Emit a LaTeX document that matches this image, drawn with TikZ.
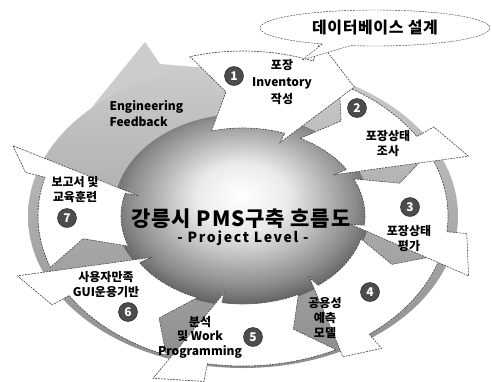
\documentclass[tikz,border=0pt]{standalone}
\usepackage{fontspec}
\setmainfont{Noto Sans CJK KR}
\usetikzlibrary{shapes.callouts}

% light centre, dark rim
\pgfdeclareradialshading{hubshade}{\pgfpoint{0bp}{4bp}}{color(0bp)=(white); color(9bp)=(black!8); color(22bp)=(black!45); color(33bp)=(black!85); color(50bp)=(black!85)}

\tikzset{
  ringarrow/.style={fill=white, draw=black!75, line width=0.6pt, dash pattern=on 2pt off 1pt, line join=miter},
  numdot/.style={circle, fill=black!70, draw=black!90, text=white, font=\bfseries\fontsize{12}{12}\selectfont, minimum size=19pt, inner sep=0pt},
  steplabel/.style={align=center, font=\bfseries\fontsize{12}{15}\selectfont},
}

\begin{document}
\begin{tikzpicture}[x=1pt, y=-1pt]
    \useasboundingbox (0,0) rectangle (492,381);

    % Grey ring
    \fill[black!20] (88,112) -- (145,42) -- (160,64) -- (232,70) -- (205,125) -- cycle;
    \shade[top color=black!20, bottom color=black!45] (243,216) ellipse [x radius=215pt, y radius=152pt];

    % Centre disc
    \shade[shading=hubshade] (242,210) ellipse [x radius=128pt, y radius=96pt];

    % Arrows (7 first, so every head lies on the next tail)
    \begin{scope}[shift={(243,216)}]
        \draw[ringarrow] plot[domain=160:195] (\x:122 and 88) -- (195:108 and 78) -- (203:250 and 180) -- (195:225 and 168) -- plot[domain=195:160] (\x:205 and 150) -- (169:163 and 119) -- cycle;
        \draw[ringarrow] plot[domain=112:148] (\x:122 and 88) -- (148:108 and 78) -- (160:240 and 175) -- (148:225 and 168) -- plot[domain=148:112] (\x:205 and 150) -- (121:163 and 119) -- cycle;
        \draw[ringarrow] plot[domain=63:100] (\x:122 and 88) -- (100:108 and 78) -- (112:240 and 175) -- (100:225 and 168) -- plot[domain=100:63] (\x:205 and 150) -- (72:163 and 119) -- cycle;
        \draw[ringarrow] plot[domain=15:52] (\x:122 and 88) -- (52:108 and 78) -- (63:220 and 158) -- (52:225 and 168) -- plot[domain=52:15] (\x:205 and 150) -- (24:163 and 119) -- cycle;
        \draw[ringarrow] plot[domain=335:366] (\x:122 and 88) -- (366:108 and 78) -- (380:240 and 175) -- (366:225 and 168) -- plot[domain=366:335] (\x:205 and 150) -- (344:163 and 119) -- cycle;
        \draw[ringarrow] plot[domain=298:328] (\x:122 and 88) -- (328:108 and 78) -- (340:240 and 175) -- (328:225 and 168) -- plot[domain=328:298] (\x:205 and 150) -- (307:163 and 119) -- cycle;
        \draw[ringarrow] plot[domain=255:290] (\x:122 and 88) -- (290:108 and 78) -- (302:210 and 152) -- (290:225 and 185) -- plot[domain=290:255] (\x:205 and 165) -- (264:163 and 125) -- cycle;
    \end{scope}

    % Title
    \node[font=\bfseries\fontsize{21}{21}\selectfont\addfontfeature{LetterSpace=4}] (title) at (241,219) {강릉시 PMS구축 흐름도};
    \node[font=\bfseries\fontsize{14}{14}\selectfont\addfontfeature{LetterSpace=12}] (level) at (243,238) {- Project Level -};

    % Steps
    \node[numdot] (n1) at (234,76) {1};
    \node[steplabel, font=\bfseries\fontsize{12}{17}\selectfont] (s1) at (282,82) {포장\\Inventory\\작성};

    \node[numdot] (n2) at (357,108) {2};
    \node[steplabel] (s2) at (388,144) {포장상태\\조사};

    \node[numdot] (n3) at (410,207) {3};
    \node[steplabel] (s3) at (409,239) {포장상태\\평가};

    \node[numdot] (n4) at (370,292) {4};
    \node[steplabel] (s4) at (325,318) {공용성\\예측\\모델};

    \node[numdot] (n5) at (253,337) {5};
    \node[steplabel, font=\bfseries\fontsize{12}{14.5}\selectfont] (s5) at (200,337) {분석\\및 Work\\Programming};

    \node[numdot] (n6) at (128,312) {6};
    \node[steplabel] (s6) at (106,285) {사용자만족\\GUI운용기반};

    \node[numdot] (n7) at (67,218) {7};
    \node[steplabel] (s7) at (75,189) {보고서 및\\교육훈련};

    \node[align=left, anchor=west, font=\bfseries\fontsize{12}{16}\selectfont] (feedback) at (106,114) {Engineering\\Feedback};

    % Callout
    \node[ellipse callout, draw=black!80, dash pattern=on 2pt off 1pt, fill=white, minimum width=230pt, minimum height=36pt, inner sep=0pt, callout absolute pointer={(302,60)}, font=\bfseries\fontsize{16}{16}\selectfont\addfontfeature{LetterSpace=4}] (dbnote) at (375,28) {데이터베이스 설계};
\end{tikzpicture}
\end{document}
